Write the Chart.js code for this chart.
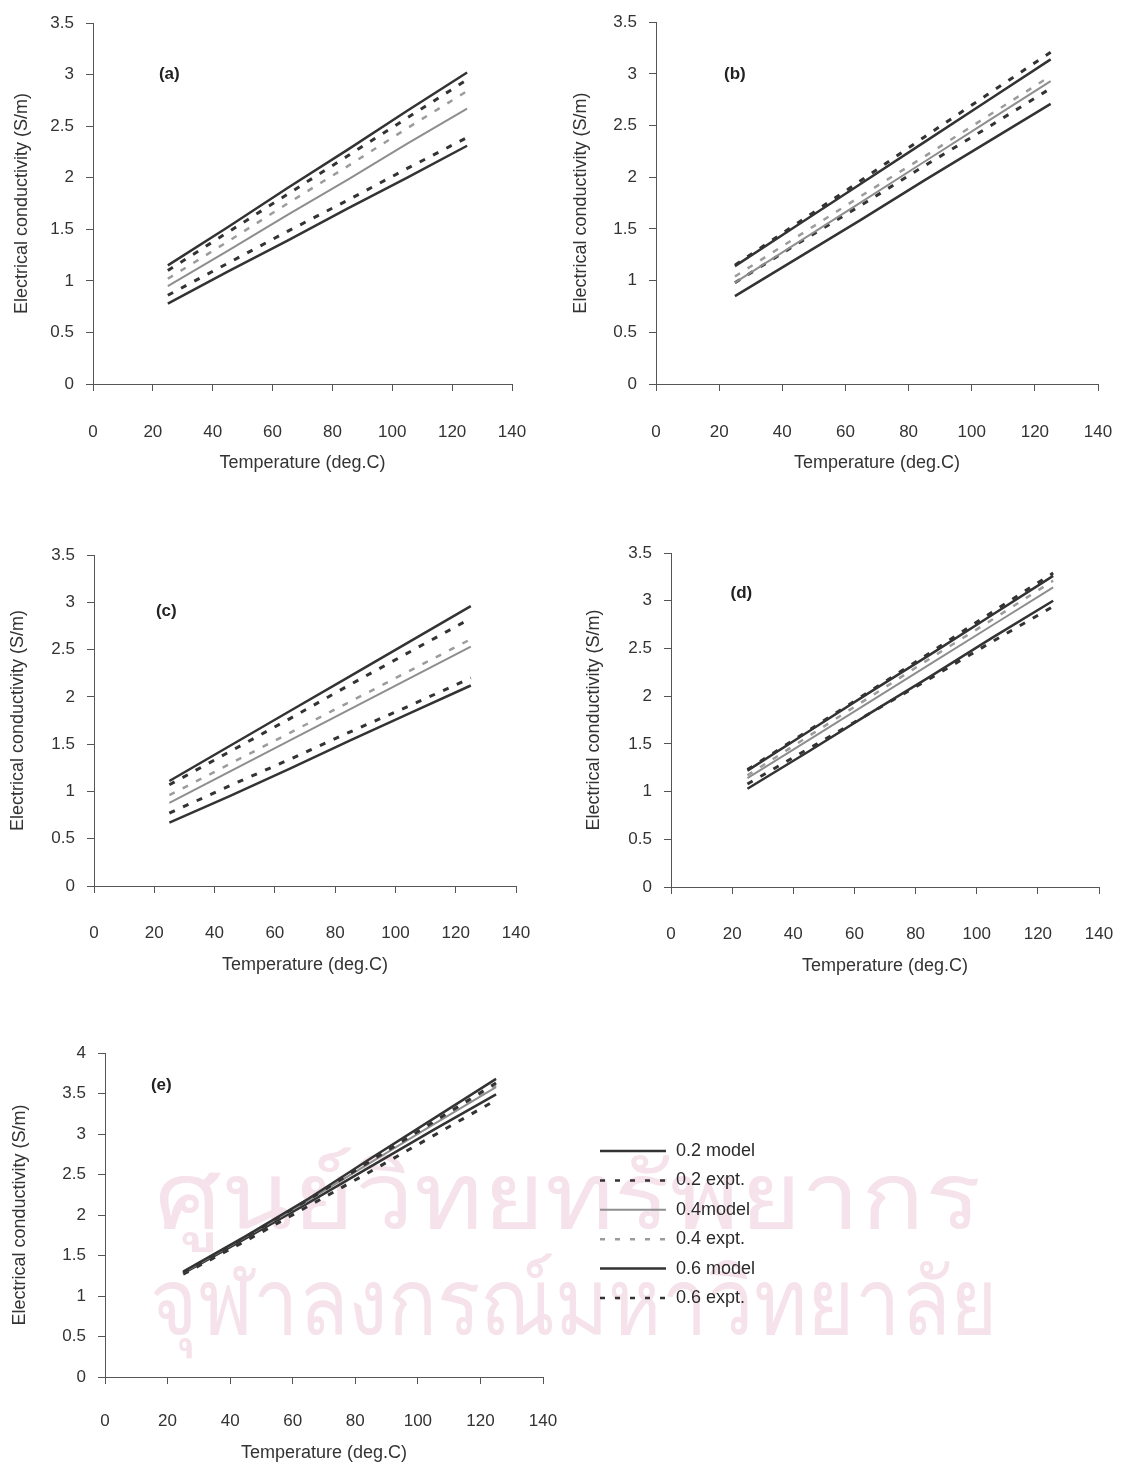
<!DOCTYPE html>
<html>
<head>
<meta charset="utf-8">
<script src="https://cdn.jsdelivr.net/npm/chart.js@4.4.1/dist/chart.umd.min.js"></script>
<style>
body { margin: 0; background: #fff; width: 1143px; height: 1465px; position: relative; overflow: hidden; font-family: "Liberation Sans", Arial, sans-serif; }
canvas { position: absolute; }
.wm { position: absolute; color: #f5e2ea; font-size: 92px; white-space: nowrap; transform-origin: 0 0; }
</style>
</head>
<body>
<div class="wm" style="left:155px; top:1122px; transform:scaleX(1.14);">ศูนย์วิทยทรัพยากร</div>
<div class="wm" style="left:150px; top:1228px; transform:scaleX(0.88);">จุฬาลงกรณ์มหาวิทยาลัย</div>
<canvas id="chartA"></canvas>
<canvas id="chartB"></canvas>
<canvas id="chartC"></canvas>
<canvas id="chartD"></canvas>
<canvas id="chartE"></canvas>
<script>
// temperatures (deg.C) where the curves are read
const temps = [25, 45, 65, 85, 105, 125];
const seriesNames = ['0.2 model', '0.2 expt.', '0.4model', '0.4 expt.', '0.6 model', '0.6 expt.'];

// conductivity (S/m), rows in the order of seriesNames
const panelA = [
    [1.15, 1.52, 1.90, 2.27, 2.65, 3.02],
    [1.10, 1.47, 1.84, 2.21, 2.58, 2.95],
    [0.95, 1.29, 1.64, 1.98, 2.33, 2.67],
    [1.02, 1.38, 1.75, 2.11, 2.48, 2.84],
    [0.78, 1.09, 1.39, 1.70, 2.00, 2.31],
    [0.86, 1.17, 1.48, 1.78, 2.09, 2.39]
];
const panelB = [
    [1.14, 1.54, 1.94, 2.34, 2.74, 3.14],
    [1.15, 1.56, 1.97, 2.39, 2.80, 3.21],
    [0.98, 1.37, 1.76, 2.15, 2.54, 2.93],
    [1.04, 1.43, 1.82, 2.20, 2.59, 2.98],
    [0.85, 1.22, 1.59, 1.97, 2.34, 2.71],
    [0.98, 1.36, 1.73, 2.11, 2.48, 2.86]
];
const panelC = [
    [1.11, 1.48, 1.85, 2.22, 2.59, 2.96],
    [1.07, 1.42, 1.77, 2.13, 2.48, 2.83],
    [0.88, 1.21, 1.54, 1.87, 2.20, 2.53],
    [0.96, 1.29, 1.62, 1.95, 2.28, 2.61],
    [0.67, 0.95, 1.24, 1.54, 1.83, 2.12],
    [0.77, 1.06, 1.34, 1.63, 1.91, 2.20]
];
const panelD = [
    [1.22, 1.63, 2.04, 2.44, 2.85, 3.26],
    [1.23, 1.64, 2.05, 2.46, 2.88, 3.29],
    [1.14, 1.54, 1.94, 2.34, 2.74, 3.14],
    [1.17, 1.58, 1.99, 2.40, 2.80, 3.21],
    [1.03, 1.42, 1.82, 2.21, 2.61, 3.00],
    [1.08, 1.45, 1.82, 2.19, 2.57, 2.94]
];
const panelE = [
    [1.30, 1.74, 2.20, 2.70, 3.19, 3.68],
    [1.29, 1.73, 2.19, 2.67, 3.15, 3.63],
    [1.29, 1.73, 2.18, 2.65, 3.12, 3.58],
    [1.29, 1.73, 2.18, 2.66, 3.13, 3.60],
    [1.28, 1.71, 2.15, 2.60, 3.05, 3.49],
    [1.27, 1.68, 2.11, 2.54, 2.98, 3.42]
];

const seriesStyle = [
    { color: '#333', dash: [], width: 2.5 },
    { color: '#333', dash: [6, 9], width: 3 },
    { color: '#8e8e8e', dash: [], width: 2 },
    { color: '#9c9c9c', dash: [6, 9], width: 2.5 },
    { color: '#333', dash: [], width: 2.5 },
    { color: '#333', dash: [6, 9], width: 3 }
];

// page layout of each panel (page pixels)
const panels = [
    { id: 'chartA', data: panelA, ymax: 3.5, tag: '(a)', tagAt: [25.5, 3.0],
      box: [0, 0, 560, 480], axisX: 93, plotTop: 23, plotRight: 512, plotBottom: 384, yTitleX: 22, xLabelY: 432, xTitleY: 463 },
    { id: 'chartB', data: panelB, ymax: 3.5, tag: '(b)', tagAt: [25, 3.0],
      box: [560, 0, 583, 480], axisX: 656, plotTop: 20, plotRight: 1122, plotBottom: 384, yTitleX: 581, xLabelY: 432, xTitleY: 463 },
    { id: 'chartC', data: panelC, ymax: 3.5, tag: '(c)', tagAt: [24, 2.9],
      box: [0, 500, 560, 490], axisX: 94, plotTop: 555, plotRight: 523, plotBottom: 886, yTitleX: 18, xLabelY: 933, xTitleY: 965 },
    { id: 'chartD', data: panelD, ymax: 3.5, tag: '(d)', tagAt: [23, 3.08],
      box: [560, 500, 583, 490], axisX: 671, plotTop: 553, plotRight: 1126, plotBottom: 887, yTitleX: 594, xLabelY: 934, xTitleY: 966 },
    { id: 'chartE', data: panelE, ymax: 4, tag: '(e)', tagAt: [18, 3.6], legend: true,
      box: [0, 1000, 800, 465], axisX: 105, plotTop: 1053, plotRight: 543, plotBottom: 1377, yTitleX: 20, xLabelY: 1421, xTitleY: 1453 }
];

const tickFont = { family: '"Liberation Sans", Arial, sans-serif', size: 17 };
const titleFont = { family: '"Liberation Sans", Arial, sans-serif', size: 18 };
const tickLen = 7;

const tagPlugin = {
    id: 'tagPlugin',
    afterDraw(chart, args, opts) {
        const ctx = chart.ctx;
        const x = chart.scales.x.getPixelForValue(opts.at[0]);
        const y = chart.scales.y.getPixelForValue(opts.at[1]);
        ctx.save();
        ctx.font = 'bold 17px "Liberation Sans", Arial, sans-serif';
        ctx.fillStyle = '#222';
        ctx.textAlign = 'center';
        ctx.textBaseline = 'middle';
        ctx.fillText(opts.text, x, y);
        ctx.restore();
    }
};

const lineLegend = {
    id: 'lineLegend',
    afterDraw(chart, args, opts) {
        if (!opts.show) return;
        const ctx = chart.ctx;
        ctx.save();
        chart.data.datasets.forEach(function (ds, i) {
            const y = opts.top + i * opts.rowH;
            ctx.beginPath();
            ctx.strokeStyle = ds.borderColor;
            ctx.lineWidth = Math.min(ds.borderWidth, 2.5);
            ctx.setLineDash(ds.borderDash.length ? [5, 10] : []);
            ctx.moveTo(opts.left, y);
            ctx.lineTo(opts.left + opts.sample, y);
            ctx.stroke();
            ctx.setLineDash([]);
            ctx.font = '18px "Liberation Sans", Arial, sans-serif';
            ctx.fillStyle = '#2a2a2a';
            ctx.textAlign = 'left';
            ctx.textBaseline = 'middle';
            ctx.fillText(ds.label, opts.left + opts.sample + 10, y);
        });
        ctx.restore();
    }
};

panels.forEach(function (p) {
    const [bl, bt, bw, bh] = p.box;
    const canvas = document.getElementById(p.id);
    canvas.width = bw;
    canvas.height = bh;
    canvas.style.left = bl + 'px';
    canvas.style.top = bt + 'px';

    const xHeight = bt + bh - p.plotBottom;
    const yWidth = p.axisX - bl;
    const tickPad = p.xLabelY - p.plotBottom - tickLen - tickFont.size * 1.2 / 2;
    const xTitlePad = bt + bh - p.xTitleY - titleFont.size * 1.2 / 2;
    const yTitlePad = p.yTitleX - bl - titleFont.size * 1.2 / 2;

    const datasets = p.data.map(function (vals, i) {
        return {
            label: seriesNames[i],
            data: temps.map(function (t, k) { return { x: t, y: vals[k] }; }),
            borderColor: seriesStyle[i].color,
            borderWidth: seriesStyle[i].width,
            borderDash: seriesStyle[i].dash,
            pointRadius: 0,
            fill: false,
            tension: 0
        };
    });

    new Chart(canvas, {
        type: 'line',
        data: { datasets: datasets },
        options: {
            responsive: false,
            animation: false,
            layout: { padding: { top: p.plotTop - bt, right: bl + bw - p.plotRight, left: 0, bottom: 0 } },
            plugins: {
                legend: { display: false },
                tooltip: { enabled: false },
                tagPlugin: { text: p.tag, at: p.tagAt },
                lineLegend: { show: !!p.legend, left: 600 - bl, top: 1151 - bt, rowH: 29.4, sample: 66 }
            },
            scales: {
                x: {
                    type: 'linear', min: 0, max: 140,
                    ticks: { stepSize: 20, color: '#333', font: tickFont, padding: tickPad, maxRotation: 0 },
                    grid: { drawOnChartArea: false, tickLength: tickLen, color: '#555' },
                    border: { color: '#555', width: 1 },
                    title: { display: true, text: 'Temperature (deg.C)', color: '#333', font: titleFont, padding: { top: 0, bottom: xTitlePad } },
                    afterFit: function (s) { s.height = xHeight; }
                },
                y: {
                    min: 0, max: p.ymax,
                    ticks: { stepSize: 0.5, color: '#333', font: tickFont, padding: 12, callback: function (v) { return String(v); } },
                    grid: { drawOnChartArea: false, tickLength: tickLen, color: '#555' },
                    border: { color: '#555', width: 1 },
                    title: { display: true, text: 'Electrical conductivity (S/m)', color: '#333', font: titleFont, padding: { top: yTitlePad, bottom: 0 } },
                    afterFit: function (s) { s.width = yWidth; }
                }
            }
        },
        plugins: [tagPlugin, lineLegend]
    });
});
</script>
</body>
</html>
